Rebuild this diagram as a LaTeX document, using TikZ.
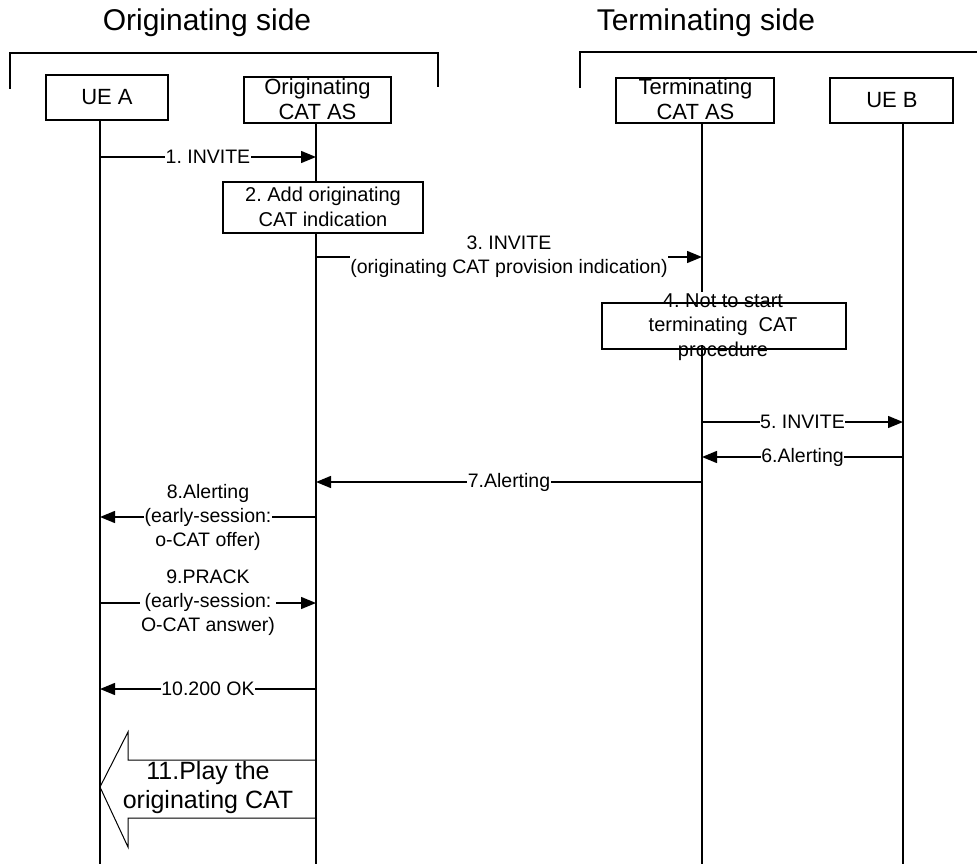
\documentclass[tikz,border=0pt]{standalone}
\usepackage{fontspec}
\setmainfont{Liberation Sans}
\usetikzlibrary{arrows.meta}
\begin{document}
\frenchspacing
\begin{tikzpicture}[x=1pt,y=-1pt,
  life/.style={line width=1.8pt},
  msg/.style={line width=1.4pt,-{Triangle[length=15pt,width=12pt]}},
  lbl/.style={fill=white,inner sep=0.6pt,align=center,font=\fontsize{19.5}{24}\selectfont},
  ebox/.style={draw,line width=1.5pt,fill=white,inner sep=0pt},
  etext/.style={align=center,inner sep=0pt,font=\fontsize{22}{25}\selectfont},
  stext/.style={align=center,inner sep=0pt,font=\fontsize{20}{24.5}\selectfont},
  bigtext/.style={align=center,inner sep=0pt,font=\fontsize{25}{29}\selectfont},
  head/.style={font=\fontsize{30}{34}\selectfont,inner sep=0pt},
  brk/.style={line width=1.3pt}]
\useasboundingbox (0,0) rectangle (977,864);

% headings and brackets
\node[head] (hO) at (207,23) {Originating side};
\node[head] (hT) at (706,23) {Terminating side};
\draw[brk] (10,89) -- (10,53) -- (438,53) -- (438,87);
\draw[brk] (580,88) -- (580,52) -- (977,52);

% lifeline x positions
\coordinate (bottom) at (0,864);
\coordinate (LA) at (100,0);
\coordinate (LB) at (316,0);
\coordinate (LC) at (702,0);
\coordinate (LD) at (903,0);

% big arrow 11
\draw[line width=1pt,fill=white] (316,760) -- (128,760) -- (128,732) -- (100,787) -- (128,847) -- (128,818) -- (316,818);
\node[bigtext] (t11) at (208,788) {11.Play the\\originating CAT};

% entity boxes
\node[ebox,minimum width=122pt,minimum height=45pt] (uea) at (107,97.5) {};
\node[ebox,minimum width=147pt,minimum height=46pt] (oas) at (317.5,100) {};
\node[ebox,minimum width=158pt,minimum height=45pt] (tas) at (695,100.5) {};
\node[ebox,minimum width=123pt,minimum height=45pt] (ueb) at (891.5,100.5) {};

% lifelines
\draw[life] (uea.south -| LA) -- (LA |- bottom);
\draw[life] (oas.south -| LB) -- (LB |- bottom);
\coordinate (LCstop) at (702,292);
\draw[life] (tas.south -| LC) -- (LCstop);
\draw[life] (ueb.south -| LD) -- (LD |- bottom);

\node[etext] (ueat) at (107,97) {UE A};
\node[etext] (oast) at (317.5,99.5) {Originating\\CAT AS};
\node[etext] (tast) at (695.5,99.5) {Terminating\\CAT AS};
\node[etext] (uebt) at (892,100) {UE B};

% step boxes
\node[ebox,minimum width=200pt,minimum height=51pt] (s2) at (323,207.5) {};
\node[stext] (s2t) at (323,207) {2. Add originating\\CAT indication};
\node[ebox,minimum width=244pt,minimum height=46pt] (s4) at (724,326) {};
\node[stext] (s4t) at (723,327) {4. Not to start\\terminating\ \ CAT\\procedure};
\coordinate (LCres) at (702,345);
\draw[life] (LCres) -- (LC |- bottom);

% message end points
\coordinate (m1a) at (100,157); \coordinate (m1b) at (316,157);
\coordinate (m3a) at (316,257); \coordinate (m3b) at (702,257);
\coordinate (m5a) at (702,422); \coordinate (m5b) at (903,422);
\coordinate (m6a) at (903,457); \coordinate (m6b) at (702,457);
\coordinate (m7a) at (702,482); \coordinate (m7b) at (316,482);
\coordinate (m8a) at (316,517); \coordinate (m8b) at (100,517);
\coordinate (m9a) at (100,603); \coordinate (m9b) at (316,603);
\coordinate (m10a) at (316,689); \coordinate (m10b) at (100,689);

\draw[msg] (m1a) -- node[lbl] (l1) {1. INVITE} (m1b);
\draw[msg] (m3a) -- node[lbl] (l3) {3. INVITE\\(originating CAT provision indication)} (m3b);
\draw[msg] (m5a) -- node[lbl] (l5) {5. INVITE} (m5b);
\draw[msg] (m6a) -- node[lbl] (l6) {6.Alerting} (m6b);
\draw[msg] (m7a) -- node[lbl] (l7) {7.Alerting} (m7b);
\draw[msg] (m8a) -- node[lbl] (l8) {8.Alerting\\(early-session:\\o-CAT offer)} (m8b);
\draw[msg] (m9a) -- node[lbl] (l9) {9.PRACK\\(early-session:\\O-CAT answer)} (m9b);
\draw[msg] (m10a) -- node[lbl] (l10) {10.200 OK} (m10b);
\end{tikzpicture}
\end{document}
